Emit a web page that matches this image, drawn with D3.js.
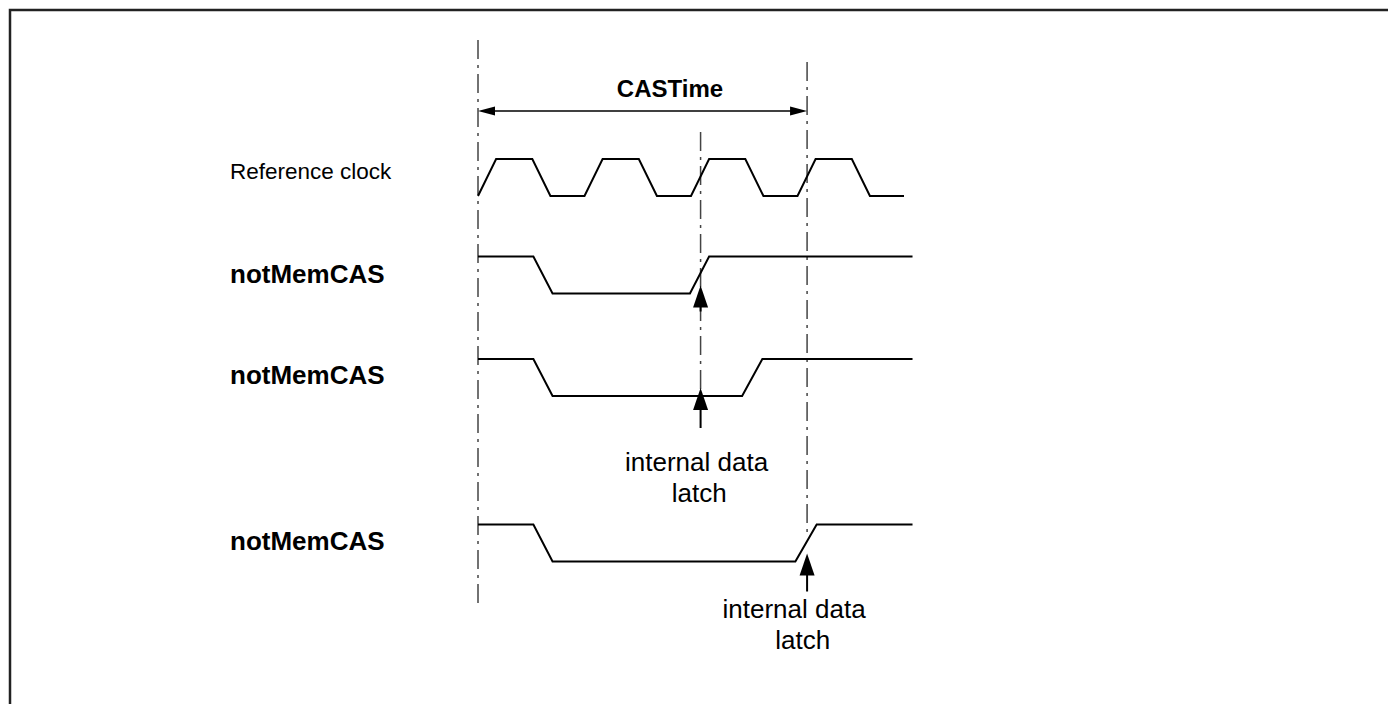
<!DOCTYPE html>
<html>
<head>
<meta charset="utf-8">
<script src="https://cdn.jsdelivr.net/npm/d3@7"></script>
<style>
  body { margin: 0; background: #fff; }
  text { font-family: Arial, "Liberation Sans", sans-serif; fill: #000; }
</style>
</head>
<body>
<svg id="chart"></svg>
<script>
// waveform data: [time, level] pairs, time in clock units (1 period = 10)
var signalNames = ["Reference clock", "notMemCAS", "notMemCAS", "notMemCAS"];
var clockWave = [[0,0],[1.7,1],[5.1,1],[6.8,0],[10,0],[11.7,1],[15.1,1],[16.8,0],
                 [20,0],[21.7,1],[25.1,1],[26.8,0],[30,0],[31.7,1],[35.1,1],[36.8,0],[40,0]];
var casWave1 = [[0,1],[5.2,1],[7.0,0],[19.9,0],[21.7,1],[40.8,1]];
var casWave2 = [[0,1],[5.2,1],[7.0,0],[24.8,0],[26.7,1],[40.8,1]];
var casWave3 = [[0,1],[5.2,1],[7.0,0],[29.8,0],[31.8,1],[40.8,1]];
var markerTimes = [0, 20.9, 30.9];
var latchTimes = [20.9, 20.9, 30.9];
var spanLabel = "CASTime";
var latchLabel = ["internal data", "latch"];

var W = 1388, H = 704;
var svg = d3.select("#chart").attr("width", W).attr("height", H);

// frame
svg.append("rect")
   .attr("x", 10).attr("y", 10)
   .attr("width", W).attr("height", H)
   .attr("fill", "none").attr("stroke", "#222").attr("stroke-width", 2.5);

var x = d3.scaleLinear().domain([0, 40]).range([478, 904]);

// row layout: y of low level, label baseline, font
var rows = [
  {low: 196, label: 179, bold: false, size: 22.5},
  {low: 293.5, label: 283, bold: true, size: 26},
  {low: 396, label: 384, bold: true, size: 26},
  {low: 561.5, label: 550, bold: true, size: 26}
];
var waves = [clockWave, casWave1, casWave2, casWave3];
var amp = 37;

// dash-dot markers
var markerExtent = [[40, 606], [132, 394], [62, 533]];
svg.selectAll("line.marker")
   .data(markerTimes)
   .enter().append("line")
   .attr("class", "marker")
   .attr("x1", function(d){ return x(d); })
   .attr("x2", function(d){ return x(d); })
   .attr("y1", function(d, i){ return markerExtent[i][0]; })
   .attr("y2", function(d, i){ return markerExtent[i][1]; })
   .attr("stroke", "#444").attr("stroke-width", 1.5)
   .attr("stroke-dasharray", "19,6,3,6");

// waveforms
waves.forEach(function(w, i){
  var y = d3.scaleLinear().domain([0, 1]).range([rows[i].low, rows[i].low - amp]);
  var line = d3.line()
     .x(function(d){ return x(d[0]); })
     .y(function(d){ return y(d[1]); });
  svg.append("path")
     .attr("d", line(w))
     .attr("fill", "none")
     .attr("stroke", "#000")
     .attr("stroke-width", 2)
     .attr("stroke-linejoin", "miter");
  svg.append("text")
     .attr("x", 230).attr("y", rows[i].label)
     .attr("font-size", rows[i].size)
     .attr("font-weight", rows[i].bold ? "bold" : "normal")
     .text(signalNames[i]);
});

// CASTime span arrow
var spanY = 111;
var x0 = x(markerTimes[0]), x1 = x(markerTimes[2]);
svg.append("line")
   .attr("x1", x0 + 8).attr("x2", x1 - 8)
   .attr("y1", spanY).attr("y2", spanY)
   .attr("stroke", "#000").attr("stroke-width", 1.5);
svg.append("path")
   .attr("d", "M" + x0 + "," + spanY + "l17,-4.5l0,9z")
   .attr("fill", "#000");
svg.append("path")
   .attr("d", "M" + x1 + "," + spanY + "l-17,-4.5l0,9z")
   .attr("fill", "#000");
svg.append("text")
   .attr("x", 670).attr("y", 97)
   .attr("text-anchor", "middle")
   .attr("font-size", 24).attr("font-weight", "bold")
   .text(spanLabel);

// latch arrows
var latchRows = [1, 2, 3];
latchTimes.forEach(function(t, i){
  var r = rows[latchRows[i]];
  var tip = r.low - 8;
  var ax = x(t);
  var shaftEnd = i === 0 ? tip + 26 : tip + 40;
  if (i === 2) shaftEnd = tip + 38;
  svg.append("line")
     .attr("x1", ax).attr("x2", ax)
     .attr("y1", tip + 15).attr("y2", shaftEnd)
     .attr("stroke", "#000").attr("stroke-width", 2);
  svg.append("path")
     .attr("d", "M" + ax + "," + tip + "l7.5,22l-15,0z")
     .attr("fill", "#000");
});

// latch labels (rows 2 and 3)
[{t: latchTimes[1], y: 471, dx: -4}, {t: latchTimes[2], y: 618, dx: -13}].forEach(function(p){
  var tx = svg.append("text")
     .attr("x", x(p.t) + p.dx).attr("y", p.y)
     .attr("text-anchor", "middle")
     .attr("font-size", 26);
  latchLabel.forEach(function(s, k){
    tx.append("tspan")
      .attr("x", x(p.t) + (k === 0 ? p.dx : p.dx / 3))
      .attr("dy", k === 0 ? 0 : 31)
      .text(s);
  });
});
</script>
</body>
</html>
